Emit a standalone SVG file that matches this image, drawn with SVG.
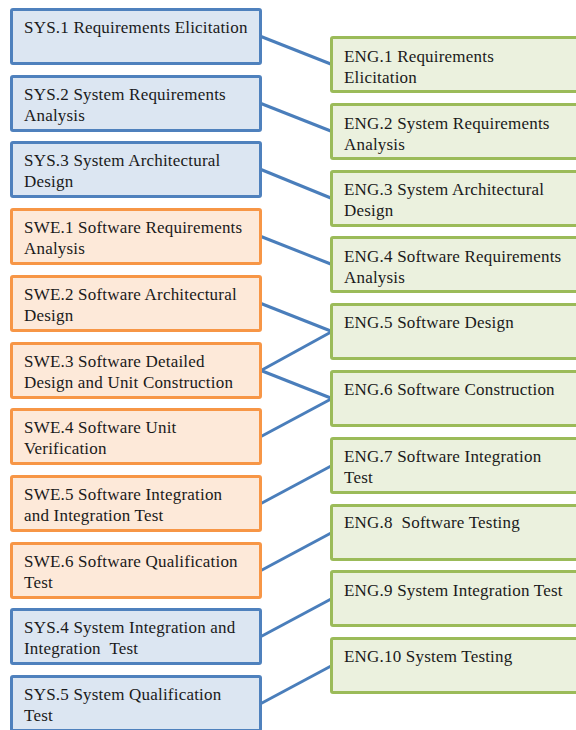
<svg xmlns="http://www.w3.org/2000/svg" width="576" height="730" viewBox="0 0 576 730">
<style>
text{font-family:"Liberation Serif","Times New Roman",serif;font-size:17px;letter-spacing:0.2px;fill:#1a1a1a;white-space:pre}
.sys{fill:#dce6f2;stroke:#4f81bd;stroke-width:3}
.swe{fill:#fde9d9;stroke:#f79646;stroke-width:3}
.eng{fill:#ebf1de;stroke:#9bbb59;stroke-width:3}
#connectors line{stroke:#4a7ebb;stroke-width:3}
</style>
<rect width="576" height="730" fill="#ffffff"/>
<g id="connectors">
<line x1="261" y1="36.5" x2="332" y2="64.5"/>
<line x1="261" y1="103.5" x2="332" y2="131.5"/>
<line x1="261" y1="169.5" x2="332" y2="198.5"/>
<line x1="261" y1="236.5" x2="332" y2="264.5"/>
<line x1="261" y1="303.5" x2="332" y2="331.5"/>
<line x1="261" y1="370.5" x2="332" y2="331.5"/>
<line x1="261" y1="370.5" x2="332" y2="398.5"/>
<line x1="261" y1="436.5" x2="332" y2="398.5"/>
<line x1="261" y1="503.5" x2="332" y2="465.5"/>
<line x1="261" y1="570.5" x2="332" y2="532.5"/>
<line x1="261" y1="636.5" x2="332" y2="598.5"/>
<line x1="261" y1="703.5" x2="332" y2="665.5"/>
</g>
<g id="sys1"><rect class="sys" x="11.5" y="9.5" width="249" height="54" rx="1.5"/><text x="24" y="33">SYS.1 Requirements Elicitation</text></g>
<g id="sys2"><rect class="sys" x="11.5" y="76.5" width="249" height="54" rx="1.5"/><text x="24" y="100">SYS.2 System Requirements</text><text x="24" y="121">Analysis</text></g>
<g id="sys3"><rect class="sys" x="11.5" y="142.5" width="249" height="54" rx="1.5"/><text x="24" y="166">SYS.3 System Architectural</text><text x="24" y="187">Design</text></g>
<g id="swe1"><rect class="swe" x="11.5" y="209.5" width="249" height="54" rx="1.5"/><text x="24" y="233">SWE.1 Software Requirements</text><text x="24" y="254">Analysis</text></g>
<g id="swe2"><rect class="swe" x="11.5" y="276.5" width="249" height="54" rx="1.5"/><text x="24" y="300">SWE.2 Software Architectural</text><text x="24" y="321">Design</text></g>
<g id="swe3"><rect class="swe" x="11.5" y="343.5" width="249" height="54" rx="1.5"/><text x="24" y="367">SWE.3 Software Detailed</text><text x="24" y="388">Design and Unit Construction</text></g>
<g id="swe4"><rect class="swe" x="11.5" y="409.5" width="249" height="54" rx="1.5"/><text x="24" y="433">SWE.4 Software Unit</text><text x="24" y="454">Verification</text></g>
<g id="swe5"><rect class="swe" x="11.5" y="476.5" width="249" height="54" rx="1.5"/><text x="24" y="500">SWE.5 Software Integration</text><text x="24" y="521">and Integration Test</text></g>
<g id="swe6"><rect class="swe" x="11.5" y="543.5" width="249" height="54" rx="1.5"/><text x="24" y="567">SWE.6 Software Qualification</text><text x="24" y="588">Test</text></g>
<g id="sys4"><rect class="sys" x="11.5" y="609.5" width="249" height="54" rx="1.5"/><text x="24" y="633">SYS.4 System Integration and</text><text x="24" y="654">Integration  Test</text></g>
<g id="sys5"><rect class="sys" x="11.5" y="676.5" width="249" height="54" rx="1.5"/><text x="24" y="700">SYS.5 System Qualification</text><text x="24" y="721">Test</text></g>
<g id="eng1"><rect class="eng" x="331.5" y="37.5" width="260" height="54" rx="1.5"/><text x="344" y="62">ENG.1 Requirements</text><text x="344" y="83">Elicitation</text></g>
<g id="eng2"><rect class="eng" x="331.5" y="104.5" width="260" height="54" rx="1.5"/><text x="344" y="129">ENG.2 System Requirements</text><text x="344" y="150">Analysis</text></g>
<g id="eng3"><rect class="eng" x="331.5" y="171.5" width="260" height="54" rx="1.5"/><text x="344" y="195">ENG.3 System Architectural</text><text x="344" y="216">Design</text></g>
<g id="eng4"><rect class="eng" x="331.5" y="237.5" width="260" height="54" rx="1.5"/><text x="344" y="262">ENG.4 Software Requirements</text><text x="344" y="283">Analysis</text></g>
<g id="eng5"><rect class="eng" x="331.5" y="304.5" width="260" height="54" rx="1.5"/><text x="344" y="328">ENG.5 Software Design</text></g>
<g id="eng6"><rect class="eng" x="331.5" y="371.5" width="260" height="54" rx="1.5"/><text x="344" y="395">ENG.6 Software Construction</text></g>
<g id="eng7"><rect class="eng" x="331.5" y="438.5" width="260" height="54" rx="1.5"/><text x="344" y="462">ENG.7 Software Integration</text><text x="344" y="483">Test</text></g>
<g id="eng8"><rect class="eng" x="331.5" y="505.5" width="260" height="54" rx="1.5"/><text x="344" y="528">ENG.8  Software Testing</text></g>
<g id="eng9"><rect class="eng" x="331.5" y="571.5" width="260" height="54" rx="1.5"/><text x="344" y="596">ENG.9 System Integration Test</text></g>
<g id="eng10"><rect class="eng" x="331.5" y="638.5" width="260" height="54" rx="1.5"/><text x="344" y="662">ENG.10 System Testing</text></g>
</svg>
